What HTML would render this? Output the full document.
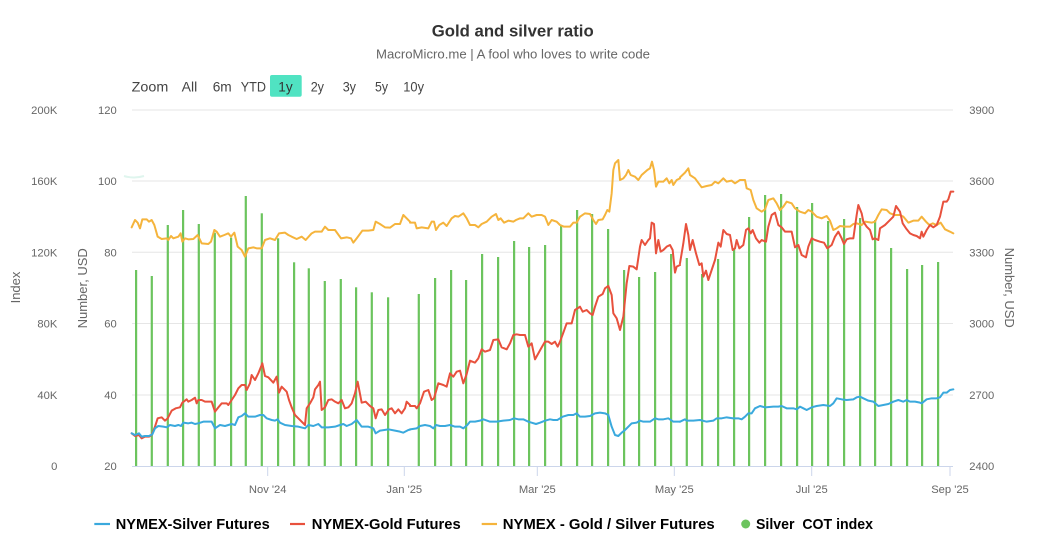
<!DOCTYPE html>
<html>
<head>
<meta charset="utf-8">
<style>
html,body{margin:0;padding:0;background:#fff;}
body{width:1041px;height:549px;overflow:hidden;}
svg{display:block;}
text{font-family:"Liberation Sans",sans-serif;}
</style>
</head>
<body>
<svg width="1041" height="549" viewBox="0 0 1041 549" xmlns="http://www.w3.org/2000/svg">
<rect width="1041" height="549" fill="#fff"/>

<!-- Title -->
<text x="431.7" y="36.7" font-size="17" font-weight="bold" fill="#333" textLength="162" lengthAdjust="spacingAndGlyphs">Gold and silver ratio</text>
<text x="376" y="58.3" font-size="13" fill="#666" textLength="274" lengthAdjust="spacingAndGlyphs">MacroMicro.me | A fool who loves to write code</text>

<!-- Range selector -->
<g font-size="14" fill="#444">
<text x="131.7" y="91.7" textLength="36.6" lengthAdjust="spacingAndGlyphs">Zoom</text>
<text x="181.7" y="91.7" textLength="15.6" lengthAdjust="spacingAndGlyphs">All</text>
<text x="212.7" y="91.7" textLength="19" lengthAdjust="spacingAndGlyphs">6m</text>
<text x="240.7" y="91.7" textLength="25.3" lengthAdjust="spacingAndGlyphs">YTD</text>
<rect x="270" y="75" width="31.7" height="21.7" rx="2" fill="#50e3c2"/>
<text x="278.3" y="91.7" textLength="14.4" lengthAdjust="spacingAndGlyphs" fill="#333">1y</text>
<text x="310.7" y="91.7" textLength="13.3" lengthAdjust="spacingAndGlyphs">2y</text>
<text x="342.7" y="91.7" textLength="13.3" lengthAdjust="spacingAndGlyphs">3y</text>
<text x="375" y="91.7" textLength="13" lengthAdjust="spacingAndGlyphs">5y</text>
<text x="403.3" y="91.7" textLength="20.7" lengthAdjust="spacingAndGlyphs">10y</text>
</g>

<!-- Gridlines -->
<g stroke="#e6e6e6" stroke-width="1">
<line x1="132" y1="110" x2="953" y2="110"/>
<line x1="132" y1="181" x2="953" y2="181"/>
<line x1="132" y1="252.3" x2="953" y2="252.3"/>
<line x1="132" y1="323.5" x2="953" y2="323.5"/>
<line x1="132" y1="395" x2="953" y2="395"/>
</g>
<path d="M124 176 Q134 179 144 176" stroke="#dff5ee" stroke-width="2" fill="none"/>

<!-- Axis labels -->
<g font-size="11.2" fill="#666" text-anchor="end">
<text x="57.3" y="114">200K</text>
<text x="57.3" y="185">160K</text>
<text x="57.3" y="256.3">120K</text>
<text x="57.3" y="327.5">80K</text>
<text x="57.3" y="399">40K</text>
<text x="57.3" y="470">0</text>
<text x="116.7" y="114">120</text>
<text x="116.7" y="185">100</text>
<text x="116.7" y="256.3">80</text>
<text x="116.7" y="327.5">60</text>
<text x="116.7" y="399">40</text>
<text x="116.7" y="470">20</text>
</g>
<g font-size="11.2" fill="#666">
<text x="969.3" y="114">3900</text>
<text x="969.3" y="185">3600</text>
<text x="969.3" y="256.3">3300</text>
<text x="969.3" y="327.5">3000</text>
<text x="969.3" y="399">2700</text>
<text x="969.3" y="470">2400</text>
</g>
<g font-size="13" fill="#666" text-anchor="middle">
<text transform="translate(20,287.5) rotate(-90)">Index</text>
<text transform="translate(87,288.3) rotate(-90)">Number, USD</text>
<text transform="translate(1005,287.7) rotate(90)">Number, USD</text>
</g>

<!-- Bars -->
<g fill="#6cc45e">
<rect x="135" y="270" width="2.2" height="196"/>
<rect x="150.7" y="276" width="2.2" height="190"/>
<rect x="166.7" y="225" width="2.2" height="241"/>
<rect x="182" y="210" width="2.2" height="256"/>
<rect x="197.7" y="224" width="2.2" height="242"/>
<rect x="213.7" y="232.7" width="2.2" height="233.3"/>
<rect x="230" y="237.7" width="2.2" height="228.3"/>
<rect x="244.7" y="196" width="2.2" height="270"/>
<rect x="260.7" y="213.3" width="2.2" height="252.7"/>
<rect x="277" y="238.3" width="2.2" height="227.7"/>
<rect x="293" y="262.3" width="2.2" height="203.7"/>
<rect x="307.7" y="268.3" width="2.2" height="197.7"/>
<rect x="323.7" y="281" width="2.2" height="185"/>
<rect x="339.7" y="279" width="2.2" height="187"/>
<rect x="355" y="287.3" width="2.2" height="178.7"/>
<rect x="370.7" y="292.3" width="2.2" height="173.7"/>
<rect x="387" y="297.3" width="2.2" height="168.7"/>
<rect x="417.7" y="294" width="2.2" height="172"/>
<rect x="434" y="278" width="2.2" height="188"/>
<rect x="450" y="270" width="2.2" height="196"/>
<rect x="465" y="280" width="2.2" height="186"/>
<rect x="481" y="254" width="2.2" height="212"/>
<rect x="497" y="257" width="2.2" height="209"/>
<rect x="513" y="241" width="2.2" height="225"/>
<rect x="528" y="247" width="2.2" height="219"/>
<rect x="544" y="245" width="2.2" height="221"/>
<rect x="560" y="226" width="2.2" height="240"/>
<rect x="576" y="210" width="2.2" height="256"/>
<rect x="591" y="214" width="2.2" height="252"/>
<rect x="607" y="229" width="2.2" height="237"/>
<rect x="623" y="270" width="2.2" height="196"/>
<rect x="638" y="277" width="2.2" height="189"/>
<rect x="654" y="272" width="2.2" height="194"/>
<rect x="670" y="254" width="2.2" height="212"/>
<rect x="685.7" y="258" width="2.2" height="208"/>
<rect x="701" y="274" width="2.2" height="192"/>
<rect x="717" y="259" width="2.2" height="207"/>
<rect x="733" y="249" width="2.2" height="217"/>
<rect x="748" y="217" width="2.2" height="249"/>
<rect x="764" y="195" width="2.2" height="271"/>
<rect x="780" y="194" width="2.2" height="272"/>
<rect x="796" y="207" width="2.2" height="259"/>
<rect x="811" y="203" width="2.2" height="263"/>
<rect x="827" y="221" width="2.2" height="245"/>
<rect x="843" y="219" width="2.2" height="247"/>
<rect x="859" y="218" width="2.2" height="248"/>
<rect x="874" y="220" width="2.2" height="246"/>
<rect x="890" y="248" width="2.2" height="218"/>
<rect x="906" y="269" width="2.2" height="197"/>
<rect x="921" y="265" width="2.2" height="201"/>
<rect x="937" y="262" width="2.2" height="204"/>
</g>

<!-- X axis -->
<line x1="132" y1="466.5" x2="953" y2="466.5" stroke="#ccd6eb" stroke-width="1"/>
<g stroke="#ccd6eb" stroke-width="1">
<line x1="267.7" y1="466" x2="267.7" y2="476"/>
<line x1="404.3" y1="466" x2="404.3" y2="476"/>
<line x1="537.3" y1="466" x2="537.3" y2="476"/>
<line x1="674.3" y1="466" x2="674.3" y2="476"/>
<line x1="811.7" y1="466" x2="811.7" y2="476"/>
<line x1="950" y1="466" x2="950" y2="476"/>
</g>
<g font-size="11.2" fill="#666" text-anchor="middle">
<text x="267.7" y="493">Nov '24</text>
<text x="404.3" y="493">Jan '25</text>
<text x="537.3" y="493">Mar '25</text>
<text x="674.3" y="493">May '25</text>
<text x="811.7" y="493">Jul '25</text>
<text x="950" y="493">Sep '25</text>
</g>

<!-- Lines -->
<g fill="none" stroke-width="2" stroke-linejoin="round" stroke-linecap="round">
<!-- Orange -->
<g stroke="#f5b43c">
<polyline vector-effect="non-scaling-stroke" transform="translate(125,170) scale(0.33333)" points="20,172 30,150 38,158 45,175 52,148 65,148 72,155 80,150 88,165 98,200 110,207 125,205 130,210 138,198 145,205 160,200 167,190 172,215 180,205 190,208 205,207 218,195 230,220 250,222 258,215 268,180 275,185 285,200 298,195 310,190 318,200 328,188 338,230 350,240 360,260 370,235 385,232 395,235 410,235 420,210 435,205 450,210 462,190 480,188 490,195 500,200 515,207 530,200 542,210 560,190 570,185 590,185 600,170 610,180 630,180 648,205 665,202 678,205 685,218 695,205 712,182 730,182 745,180 752,155 765,162 780,172 795,173 810,162 825,162 835,135 845,145 855,155"/>
<polyline vector-effect="non-scaling-stroke" transform="translate(410,150) scale(0.33333)" points="0,218 15,218 20,235 35,232 55,235 65,215 72,215 78,240 88,225 100,218 110,228 125,205 135,198 145,200 160,190 170,205 180,225 195,225 205,232 215,222 230,215 245,200 258,192 265,210 272,205 282,218 295,212 310,215 318,210 330,205 340,205 355,190 365,200 380,195 395,195 405,200 415,225 425,210 440,215 450,225 462,230 480,230 490,218 500,218 510,200 525,190 540,192 550,210 558,222 565,210 578,208 585,195 592,180 598,185 605,130 610,60 615,40 625,30 630,90 640,85 648,75 655,60 662,75 675,80 685,90 695,75 712,60 720,55 726,35 732,60 738,110 745,95 760,95 770,85 778,100 785,90 790,105 800,90 810,85"/>
<polyline vector-effect="non-scaling-stroke" transform="translate(680,150) scale(0.33333)" points="0,82 15,68 25,55 30,75 45,85 65,112 80,108 95,105 105,95 115,100 130,85 140,95 155,92 165,100 180,90 195,90 200,115 212,120 220,150 230,175 245,185 255,178 265,150 280,145 290,160 300,180 310,170 320,155 335,160 345,175 360,185 375,190 385,180 395,185 410,200 425,205 440,198 450,212 460,240 470,235 480,228 495,230 510,230 520,222 530,220 545,225 555,215 575,218 585,215 595,195 605,178 620,180 630,190 645,195 660,195 670,200 685,218 700,212 715,212 725,200 738,215 748,225 758,220 770,225 782,218 795,238 810,245 820,250"/>
</g>
<!-- Red -->
<g stroke="#e8513d">
<polyline vector-effect="non-scaling-stroke" transform="translate(125,170) scale(0.33333)" points="20,790 30,798 42,795 50,805 60,800 72,800 80,795 90,770 98,745 110,742 120,752 128,745 140,722 152,715 165,712 172,698 185,688 190,695 200,690 210,683 215,700 220,690 230,690 240,695 260,695 270,725 280,712 290,700 305,700 310,705 320,690 330,675 340,655 350,645 360,645 365,660 375,640 380,615 390,630 400,610 412,580 420,618 430,622 445,638 455,620 462,668 470,650 485,665 492,690 500,712 510,735 520,745 540,765 545,715 555,700 565,682 570,658 580,645 585,635 590,720 600,712 610,690 620,688 630,695 640,700 650,690 660,715 670,712 680,700 690,670 698,635 710,698 722,695 735,708 745,715 752,745 760,720 770,718 780,735 792,718 800,715 810,730 820,718 830,730 840,715 845,695 855,705"/>
<polyline vector-effect="non-scaling-stroke" transform="translate(410,150) scale(0.33333)" points="0,768 15,768 20,775 30,760 42,725 55,720 65,750 72,745 85,700 100,705 110,710 120,670 130,680 140,665 150,662 160,700 170,672 180,632 195,638 205,625 215,598 225,605 240,600 250,570 265,568 275,592 290,598 300,580 310,555 320,553 330,555 345,555 355,590 365,580 375,628 385,610 395,592 405,575 415,575 425,582 435,575 443,590 450,575 460,548 470,520 485,520 495,480 510,470 518,485 530,480 540,490 548,495 555,470 565,440 578,432 585,415 595,408 605,435 610,490 620,505 630,540 640,500 650,400 658,348 670,350 680,358 690,290 695,270 705,285 715,270 720,265 725,218 732,222 738,310 745,270 752,305 760,300 770,290 780,285 788,300 795,368 800,350 810,345"/>
<polyline vector-effect="non-scaling-stroke" transform="translate(680,150) scale(0.33333)" points="0,340 10,280 18,222 25,255 30,300 38,270 48,310 58,345 65,340 70,380 78,362 85,390 95,360 105,330 115,278 122,290 130,240 140,252 150,255 158,300 165,295 170,270 178,295 190,285 198,240 205,235 212,250 218,240 228,265 238,278 245,270 258,275 265,230 275,195 285,188 295,225 305,232 315,245 335,245 345,292 355,285 365,315 378,322 385,290 395,265 405,270 420,275 432,278 442,295 455,285 465,260 475,245 485,265 492,282 500,268 510,265 520,265 530,195 535,165 545,190 550,215 560,230 570,240 578,268 585,265 595,270 600,235 615,225 625,215 640,200 648,168 660,185 668,220 678,235 690,250 700,255 710,258 720,265 725,245 730,260 740,240 750,225 760,232 770,225 780,200 790,155 800,155 805,148 812,125 820,125"/>
</g>
<!-- Blue -->
<g stroke="#3aa9dd">
<polyline vector-effect="non-scaling-stroke" transform="translate(125,170) scale(0.33333)" points="20,790 30,795 42,790 50,800 60,798 72,798 82,793 90,775 100,768 115,770 125,772 135,765 150,768 160,765 168,768 175,758 190,760 200,758 210,762 220,760 235,755 250,755 260,755 270,775 285,765 300,768 310,765 320,762 330,765 340,742 350,738 360,730 370,740 390,740 405,735 415,735 425,745 440,750 450,752 458,748 465,758 480,765 500,768 520,770 540,775 550,765 565,768 580,762 590,772 610,772 630,770 645,765 655,762 665,768 680,762 695,750 710,770 730,770 745,775 752,790 765,782 790,778 810,782 825,785 835,788 850,780 855,779"/>
<polyline vector-effect="non-scaling-stroke" transform="translate(410,150) scale(0.33333)" points="0,838 20,835 30,828 45,825 60,828 70,835 78,825 90,828 105,828 120,825 135,830 150,830 160,835 172,825 180,815 195,815 210,812 220,808 240,815 260,815 280,812 300,810 312,805 325,808 340,808 355,815 365,818 378,822 390,818 405,812 420,808 430,810 442,810 458,800 475,795 490,795 500,790 510,800 525,800 540,798 555,790 570,788 585,790 595,795 605,830 615,855 625,858 635,848 645,840 655,830 665,820 680,818 690,812 700,815 720,815 735,805 745,808 760,808 775,805 790,815 800,815 810,815"/>
<polyline vector-effect="non-scaling-stroke" transform="translate(680,150) scale(0.33333)" points="0,815 15,808 20,812 40,812 60,810 80,815 100,812 110,805 125,805 140,802 160,805 175,805 185,808 195,800 205,790 215,790 225,775 240,768 255,772 280,770 295,770 305,768 320,775 340,775 350,778 360,770 370,775 380,780 395,772 410,768 430,765 450,768 460,760 470,745 485,748 500,750 520,748 530,742 540,740 550,745 565,752 580,755 595,768 610,765 625,762 640,755 655,750 670,755 680,750 690,755 705,755 720,758 725,760 740,748 755,745 770,745 780,742 790,728 800,728 810,720 820,718"/>
</g>
</g>

<!-- Legend -->
<g stroke-width="2.2">
<line x1="94.3" y1="524" x2="110" y2="524" stroke="#3aa9dd"/>
<line x1="290" y1="524" x2="305" y2="524" stroke="#e8513d"/>
<line x1="481.7" y1="524" x2="497" y2="524" stroke="#f5b43c"/>
</g>
<circle cx="745.7" cy="524" r="4.5" fill="#6cc45e"/>
<g font-size="15" font-weight="bold" fill="#000">
<text x="115.7" y="529" textLength="154" lengthAdjust="spacingAndGlyphs">NYMEX-Silver Futures</text>
<text x="311.7" y="529" textLength="149" lengthAdjust="spacingAndGlyphs">NYMEX-Gold Futures</text>
<text x="502.7" y="529" textLength="212" lengthAdjust="spacingAndGlyphs">NYMEX - Gold / Silver Futures</text>
<text x="756" y="529" textLength="117" lengthAdjust="spacingAndGlyphs" xml:space="preserve">Silver  COT index</text>
</g>
</svg>
</body>
</html>
